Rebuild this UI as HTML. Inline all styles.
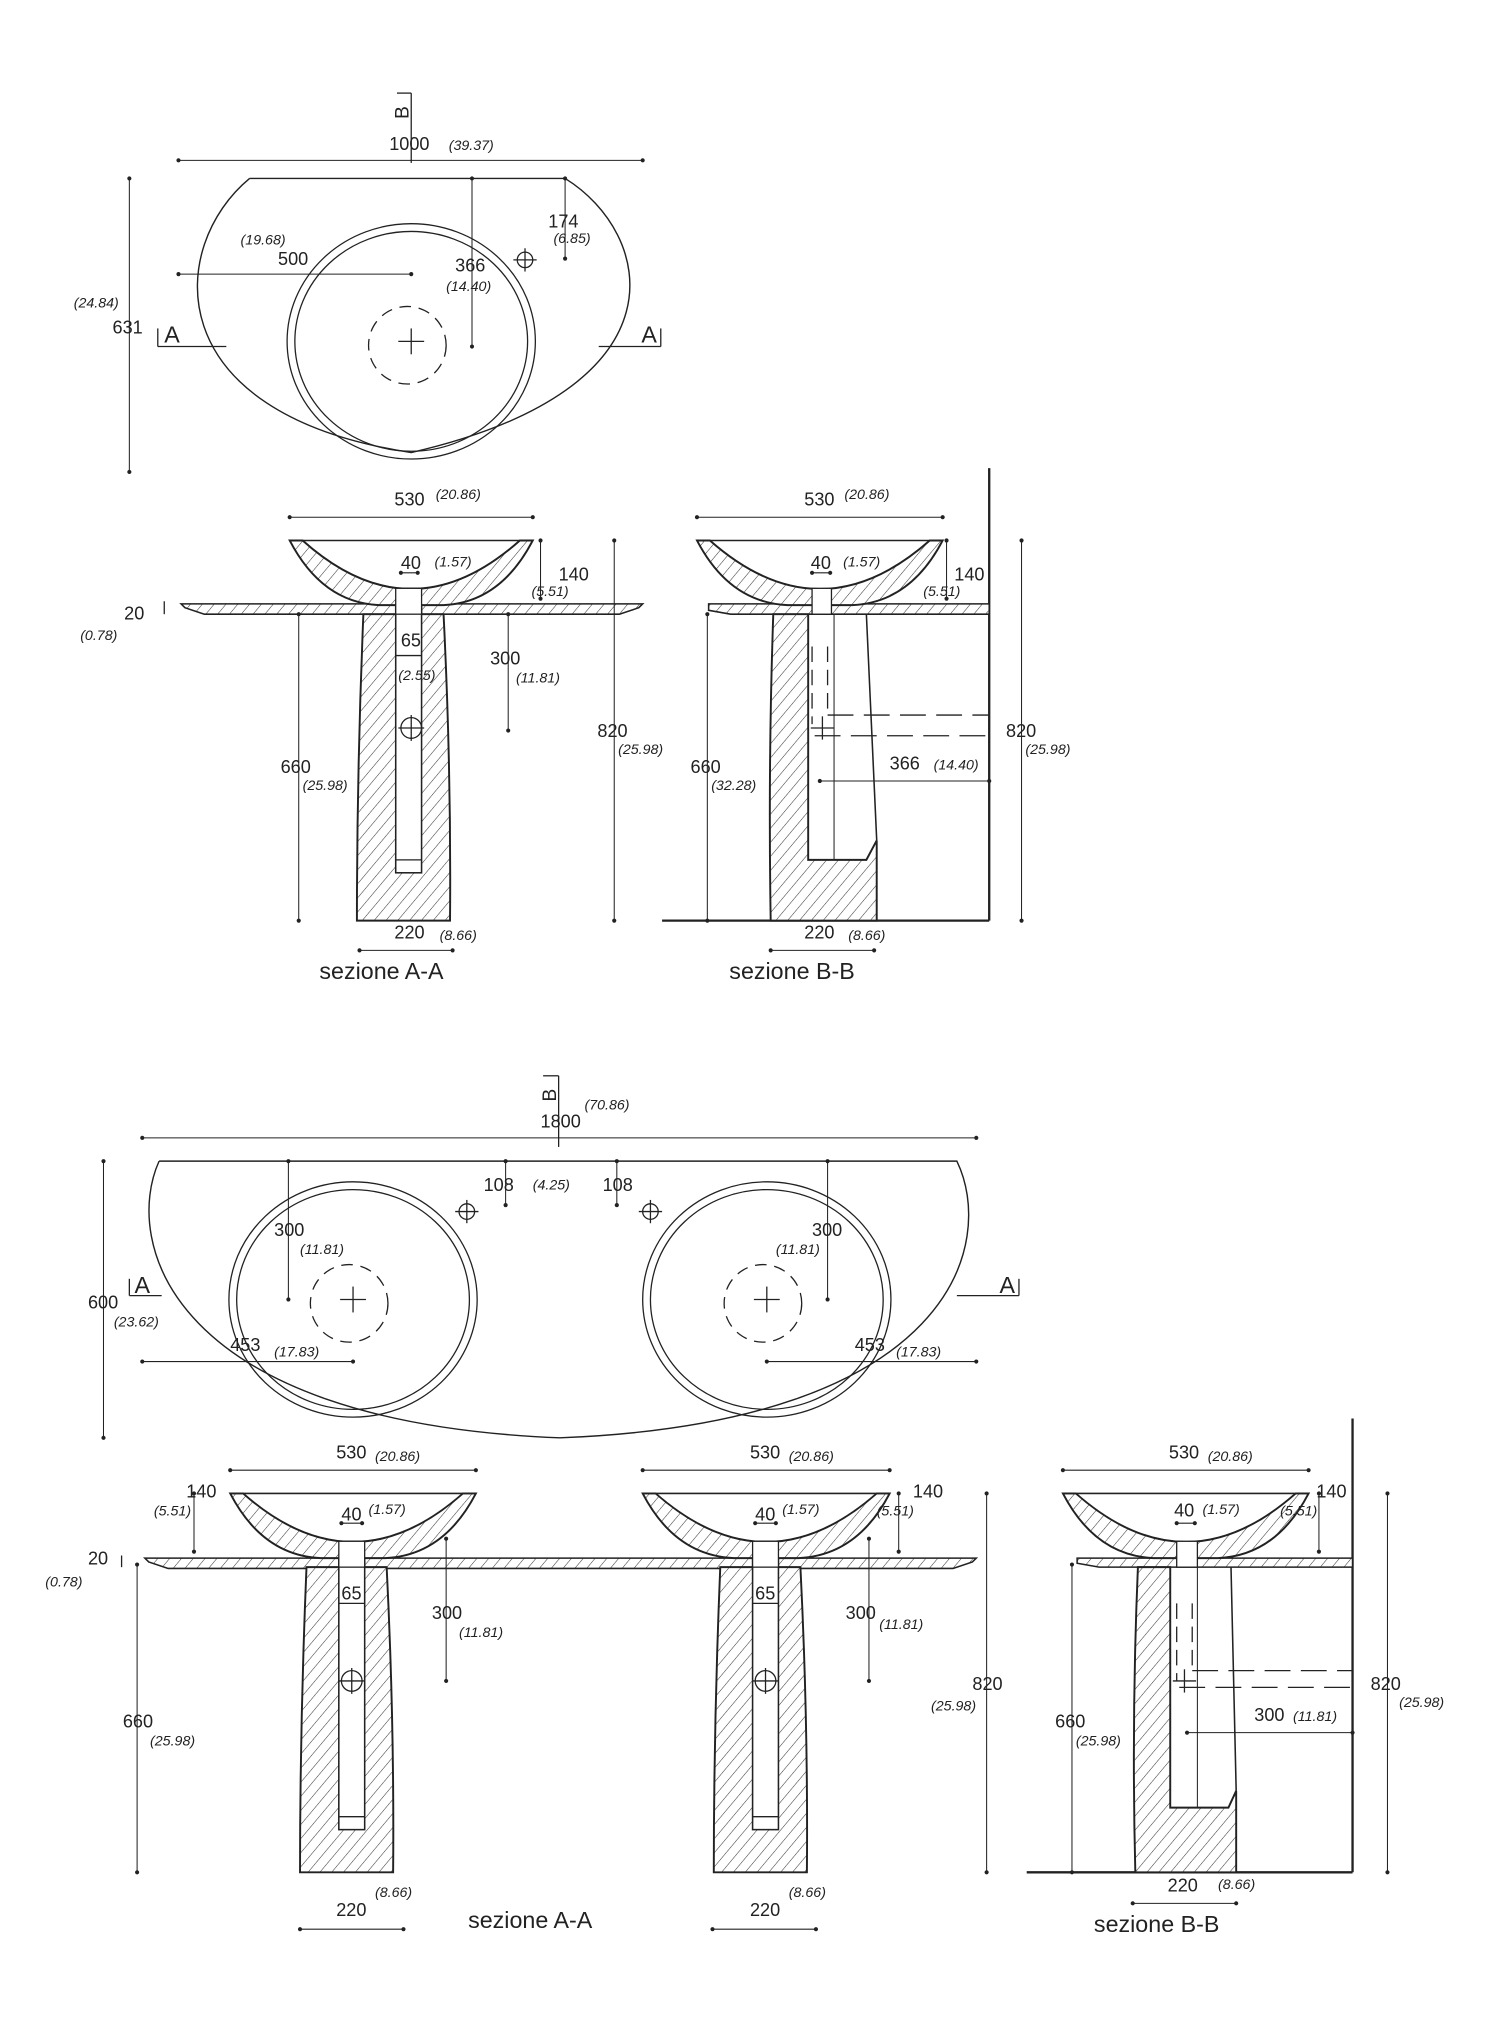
<!DOCTYPE html>
<html><head><meta charset="utf-8"><style>
html,body{margin:0;padding:0;background:#fff}
svg{display:block}
text{font-family:"Liberation Sans",sans-serif;fill:#222}
.n{font-size:14px}
.i{font-size:11px;font-style:italic}
.t{font-size:18px}
</style></head><body>
<svg id="s" width="1500" height="2021" viewBox="0 0 1160 1563" xmlns="http://www.w3.org/2000/svg">
<defs>
<pattern id="h" patternUnits="userSpaceOnUse" width="7" height="7" patternTransform="rotate(40)">
<rect width="7" height="7" fill="#fff"/><line x1="0" y1="0" x2="0" y2="7" stroke="#333" stroke-width="0.8"/>
</pattern>
</defs>
<g id="g" fill="none" stroke="#222" stroke-width="1"></g>
</svg>
<script>
var g=document.getElementById('g'),S='';
function L(a,b,c,d,ex){S+='<line x1="'+a+'" y1="'+b+'" x2="'+c+'" y2="'+d+'" '+(ex||'')+'/>';}
function P(d,ex){S+='<path d="'+d+'" '+(ex||'')+'/>';}
function T(x,y,s,c){S+='<text x="'+x+'" y="'+y+'" class="'+c+'" stroke="none">'+s+'</text>';}
function D(x,y){S+='<circle cx="'+x+'" cy="'+y+'" r="1.6" fill="#222" stroke="none"/>';}
function DH(x1,x2,y){L(x1,y,x2,y,'stroke-width="0.8"');D(x1,y);D(x2,y);}
function DV(x,y1,y2){L(x,y1,x,y2,'stroke-width="0.8"');D(x,y1);D(x,y2);}
function C(cx,cy,rx,ry,ex){S+='<ellipse cx="'+cx+'" cy="'+cy+'" rx="'+rx+'" ry="'+ry+'" '+(ex||'')+'/>';}
function X(x,y,r){L(x-r,y,x+r,y);L(x,y-r,x,y+r);}
function tap(x,y){C(x,y,6,6);X(x,y,9);}
function basin(cx,cy){C(cx,cy,96,91);C(cx,cy,90,85);C(cx-3,cy+3,30,30,'stroke-dasharray="9 6"');X(cx,cy,10);}
function bowl(x0,x1,y0){var cx=(x0+x1)/2;
P('M'+x0+','+y0+' L'+(x0+10)+','+y0+' Q'+cx+','+(y0+75)+' '+(x1-10)+','+y0+' L'+x1+','+y0+' Q'+(x1-25)+','+(y0+48)+' '+(cx+25)+','+(y0+50)+' L'+(cx-25)+','+(y0+50)+' Q'+(x0+25)+','+(y0+48)+' '+x0+','+y0+' Z','fill="url(#h)" stroke-width="1.5"');
L(x0,y0,x1,y0,'stroke-width="1.2"');}
function pedA(cx,yTop,yBot,yCh){
P('M'+(cx-35)+','+yTop+' L'+(cx+27)+','+yTop+' Q'+(cx+33)+','+(yTop+120)+' '+(cx+32)+','+yBot+' L'+(cx-40)+','+yBot+' Q'+(cx-40)+','+(yTop+120)+' '+(cx-35)+','+yTop+' Z','fill="url(#h)" stroke-width="1.5"');
S+='<rect x="'+(cx-10)+'" y="'+(yTop-20)+'" width="20" height="'+(yCh-yTop+20)+'" fill="#fff" stroke="#222" stroke-width="1.2"/>';
L(cx-10,yCh-10,cx+10,yCh-10);}
function slab(x0,x1,y,ex){P('M'+x0+','+y+' L'+x1+','+y+' L'+(x1-3)+','+(y+3)+' L'+(x1-18)+','+(y+8)+' L'+(x0+18)+','+(y+8)+' L'+(x0+3)+','+(y+3)+' Z','fill="url(#h)" stroke-width="1.2"');}

/* ===== TOP PLAN ===== */
P('M193,138 L437,138 C505,180 535,300 318,350 C120,320 130,190 193,138','stroke-width="1.1"');
basin(318,264);
tap(406,201);
DH(138,497,124);T(301,116,'1000','n');T(347,116,'(39.37)','i');
L(318,72,318,126);L(307,72,318,72);S+='<text x="316" y="92" class="n" stroke="none" transform="rotate(-90 316 92)" style="font-size:15px">B</text>';
DV(100,138,365);T(87,258,'631','n');T(57,238,'(24.84)','i');
DH(138,318,212);T(215,205,'500','n');T(186,189,'(19.68)','i');
DV(365,138,268);T(352,210,'366','n');T(345,225,'(14.40)','i');
DV(437,138,200);T(424,176,'174','n');T(428,188,'(6.85)','i');
L(122,254,122,268);L(122,268,175,268);T(127,265,'A','t');
L(463,268,511,268);L(511,254,511,268);T(496,265,'A','t');

/* ===== Section A-A top ===== */
slab(140,497,467);
pedA(316,475,712,675);
bowl(224,412,418);
S+='<rect x="306" y="455" width="20" height="20" fill="#fff" stroke="#222"/>';
C(318,563,8,8);X(318,563,10);
DH(224,412,400);T(305,391,'530','n');T(337,386,'(20.86)','i');
DH(310,323,443);T(310,440,'40','n');T(336,438,'(1.57)','i');
DV(418,418,463);T(432,449,'140','n');T(411,461,'(5.51)','i');
L(127,465,127,475);T(96,479,'20','n');T(62,495,'(0.78)','i');
L(306,507,326,507);T(310,500,'65','n');T(308,526,'(2.55)','i');
DV(393,475,565);T(379,514,'300','n');T(399,528,'(11.81)','i');
DV(475,418,712);T(462,570,'820','n');T(478,583,'(25.98)','i');
DV(231,475,712);T(217,598,'660','n');T(234,611,'(25.98)','i');
DH(278,350,735);T(305,726,'220','n');T(340,727,'(8.66)','i');
T(247,757,'sezione A-A','t');

/* ===== Section B-B top ===== */
L(765,362,765,712,'stroke-width="1.8"');L(512,712,765,712,'stroke-width="1.8"');
P('M548,467 L765,467 L765,475 L565,475 L548,472 Z','fill="url(#h)" stroke-width="1.2"');
P('M598,475 L625,475 L625,665 L670,665 L678,650 L678,712 L596,712 Q594,590 598,475 Z','fill="url(#h)" stroke-width="1.5"');
L(670,475,678,650,'stroke-width="1.2"');
L(645,475,645,665,'stroke-width="0.8"');
bowl(539,729,418);
S+='<rect x="628" y="455" width="15" height="20" fill="#fff" stroke="#222"/>';
L(628,500,628,560,'stroke-dasharray="12 6"');L(640,500,640,553,'stroke-dasharray="12 6"');
L(640,553,765,553,'stroke-dasharray="20 8"');L(630,569,765,569,'stroke-dasharray="20 8"');
X(636,563,9);
DH(539,729,400);T(622,391,'530','n');T(653,386,'(20.86)','i');
DH(628,642,443);T(627,440,'40','n');T(652,438,'(1.57)','i');
DV(732,418,463);T(738,449,'140','n');T(714,461,'(5.51)','i');
DV(790,418,712);T(778,570,'820','n');T(793,583,'(25.98)','i');
DV(547,475,712);T(534,598,'660','n');T(550,611,'(32.28)','i');
DH(634,765,604);T(688,595,'366','n');T(722,595,'(14.40)','i');
DH(596,676,735);T(622,726,'220','n');T(656,727,'(8.66)','i');
T(564,757,'sezione B-B','t');

/* ===== BOTTOM PLAN ===== */
P('M123,898 L740,898 C770,960 740,1100 433,1112 C130,1100 95,960 123,898','stroke-width="1.1"');
basin(273,1005);basin(593,1005);
tap(361,937);tap(503,937);
DH(110,755,880);T(418,872,'1800','n');T(452,858,'(70.86)','i');
L(432,832,432,887);L(420,832,432,832);S+='<text x="430" y="852" class="n" stroke="none" transform="rotate(-90 430 852)" style="font-size:15px">B</text>';
DV(391,898,932);DV(477,898,932);T(374,921,'108','n');T(412,920,'(4.25)','i');T(466,921,'108','n');
DV(223,898,1005);T(212,956,'300','n');T(232,970,'(11.81)','i');
DV(640,898,1005);T(628,956,'300','n');T(600,970,'(11.81)','i');
DV(80,898,1112);T(68,1012,'600','n');T(88,1026,'(23.62)','i');
L(100,989,100,1002);L(100,1002,125,1002);T(104,1000,'A','t');
L(740,1002,788,1002);L(788,989,788,1002);T(773,1000,'A','t');
DH(110,273,1053);T(178,1045,'453','n');T(212,1049,'(17.83)','i');
DH(593,755,1053);T(661,1045,'453','n');T(693,1049,'(17.83)','i');

/* ===== Section A-A bottom ===== */
slab(112,755,1205);
pedA(272,1212,1448,1415);pedA(592,1212,1448,1415);
bowl(178,368,1155);bowl(497,688,1155);
S+='<rect x="262" y="1192" width="20" height="20" fill="#fff" stroke="#222"/><rect x="582" y="1192" width="20" height="20" fill="#fff" stroke="#222"/>';
C(272,1300,8,8);X(272,1300,10);C(592,1300,8,8);X(592,1300,10);
DH(178,368,1137);T(260,1128,'530','n');T(290,1130,'(20.86)','i');
DH(497,688,1137);T(580,1128,'530','n');T(610,1130,'(20.86)','i');
DH(264,280,1178);T(264,1176,'40','n');T(285,1171,'(1.57)','i');
DH(584,600,1178);T(584,1176,'40','n');T(605,1171,'(1.57)','i');
DV(150,1155,1200);T(144,1158,'140','n');T(119,1172,'(5.51)','i');
DV(695,1155,1200);T(706,1158,'140','n');T(678,1172,'(5.51)','i');
L(94,1203,94,1212);T(68,1210,'20','n');T(35,1227,'(0.78)','i');
L(262,1240,282,1240);T(264,1237,'65','n');L(582,1240,602,1240);T(584,1237,'65','n');
DV(345,1190,1300);T(334,1252,'300','n');T(355,1266,'(11.81)','i');
DV(672,1190,1300);T(654,1252,'300','n');T(680,1260,'(11.81)','i');
DV(106,1210,1448);T(95,1336,'660','n');T(116,1350,'(25.98)','i');
DV(763,1155,1448);T(752,1307,'820','n');T(720,1323,'(25.98)','i');
DH(232,312,1492);T(260,1482,'220','n');T(290,1467,'(8.66)','i');
DH(551,631,1492);T(580,1482,'220','n');T(610,1467,'(8.66)','i');
T(362,1491,'sezione A-A','t');

/* ===== Section B-B bottom ===== */
L(1046,1097,1046,1448,'stroke-width="1.8"');L(794,1448,1046,1448,'stroke-width="1.8"');
P('M833,1205 L1046,1205 L1046,1212 L850,1212 L833,1209 Z','fill="url(#h)" stroke-width="1.2"');
P('M880,1212 L905,1212 L905,1398 L950,1398 L956,1385 L956,1448 L878,1448 Q875,1330 880,1212 Z','fill="url(#h)" stroke-width="1.5"');
L(952,1212,956,1385,'stroke-width="1.2"');
L(926,1212,926,1398,'stroke-width="0.8"');
bowl(822,1012,1155);
S+='<rect x="910" y="1192" width="16" height="20" fill="#fff" stroke="#222"/>';
L(910,1240,910,1300,'stroke-dasharray="12 6"');L(922,1240,922,1292,'stroke-dasharray="12 6"');
L(922,1292,1046,1292,'stroke-dasharray="20 8"');L(912,1305,1046,1305,'stroke-dasharray="20 8"');
X(916,1300,9);
DH(822,1012,1137);T(904,1128,'530','n');T(934,1130,'(20.86)','i');
DH(910,924,1178);T(908,1173,'40','n');T(930,1171,'(1.57)','i');
DV(1020,1155,1200);T(1018,1158,'140','n');T(990,1172,'(5.51)','i');
DV(1073,1155,1448);T(1060,1307,'820','n');T(1082,1320,'(25.98)','i');
DV(829,1210,1448);T(816,1336,'660','n');T(832,1350,'(25.98)','i');
DH(918,1046,1340);T(970,1331,'300','n');T(1000,1331,'(11.81)','i');
DH(876,956,1472);T(903,1463,'220','n');T(942,1461,'(8.66)','i');
T(846,1494,'sezione B-B','t');
g.innerHTML=S;
</script>
</body></html>
